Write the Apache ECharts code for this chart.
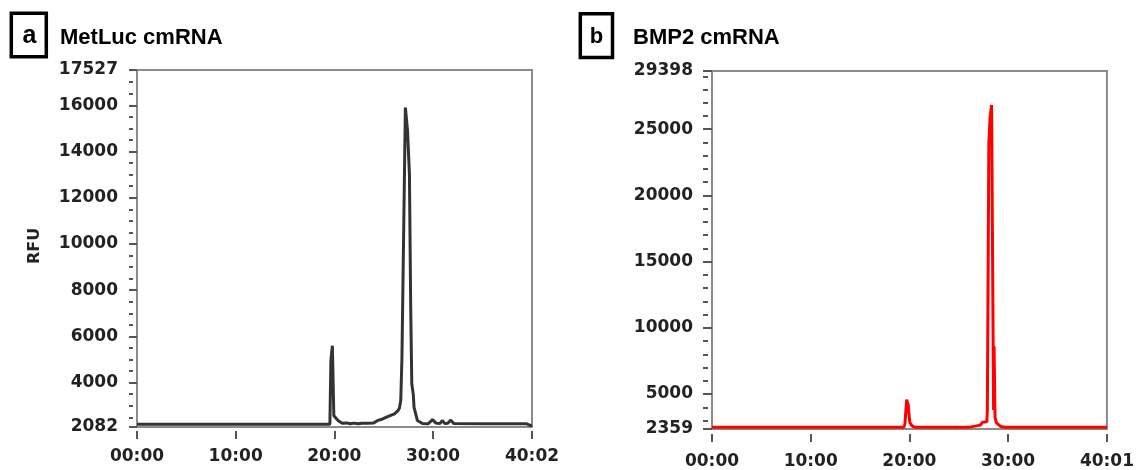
<!DOCTYPE html>
<html>
<head>
<meta charset="utf-8">
<script src="https://cdn.jsdelivr.net/npm/echarts@6/dist/echarts.min.js"></script>
<style>
html,body{margin:0;padding:0;background:#fff;}
#chart{width:1137px;height:470px;}
</style>
</head>
<body>
<div id="chart"></div>
<script>
// ---- Panel a: MetLuc cmRNA (time in minutes, RFU) ----
const timeA = [0, 8.2, 8.4, 8.6, 10.6, 10.8, 11.0, 19.55, 19.65, 19.75, 19.8, 19.9, 19.95, 20.2, 20.4, 20.8, 21.3, 21.6, 22.0, 22.4, 22.8, 23.4, 24.0, 24.35, 24.9, 25.4, 26.1, 26.45, 26.6, 26.73, 26.85, 27.0, 27.07, 27.15, 27.2, 27.34, 27.42, 27.55, 27.61, 27.7, 27.74, 27.8, 27.85, 28.0, 28.08, 28.42, 28.93, 29.5, 29.95, 30.3, 30.7, 30.96, 31.2, 31.5, 31.8, 32.1, 35, 39.5, 39.7, 39.9, 40.033];
const rfuA  = [2200, 2200, 2260, 2200, 2200, 2250, 2200, 2200, 4950, 4950, 5600, 5600, 2570, 2450, 2355, 2240, 2260, 2220, 2250, 2220, 2240, 2240, 2260, 2355, 2430, 2530, 2650, 2790, 2900, 3220, 5030, 5030, 11880, 11880, 15900, 15920, 14900, 14900, 13030, 13030, 7260, 7260, 3940, 3500, 2930, 2360, 2230, 2220, 2400, 2250, 2230, 2360, 2230, 2240, 2380, 2230, 2220, 2220, 2160, 2140, 2160];

// ---- Panel b: BMP2 cmRNA ----
const timeB = [0, 19.45, 19.55, 19.65, 19.72, 19.8, 19.88, 19.95, 20.05, 20.3, 20.6, 26.1, 26.2, 27.2, 27.4, 27.85, 27.9, 28.0, 28.05, 28.17, 28.33, 28.5, 28.53, 28.58, 28.63, 28.68, 28.82, 29.2, 29.6, 40.017];
const rfuB  = [2500, 2500, 2750, 3800, 4580, 4450, 4200, 3580, 2830, 2570, 2500, 2500, 2620, 2650, 2870, 2900, 3830, 3830, 23940, 25830, 26830, 26700, 3800, 8600, 8600, 3200, 2830, 2570, 2500, 2500];

// ---- Tick values / labels ----
const xTickValuesA = [0, 10, 20, 30, 40.033];
const xTickLabelsA = ['00:00', '10:00', '20:00', '30:00', '40:02'];
const yTickValuesA = [2082, 4000, 6000, 8000, 10000, 12000, 14000, 16000, 17527];
const yTickLabelsA = ['2082', '4000', '6000', '8000', '10000', '12000', '14000', '16000', '17527'];
const yMinorStepA = 500;

const xTickValuesB = [0, 10, 20, 30, 40.017];
const xTickLabelsB = ['00:00', '10:00', '20:00', '30:00', '40:01'];
const yTickValuesB = [2359, 5000, 10000, 15000, 20000, 25000, 29398];
const yTickLabelsB = ['2359', '5000', '10000', '15000', '20000', '25000', '29398'];
const yMinorStepB = 1000;

const titleA = 'MetLuc cmRNA';
const titleB = 'BMP2 cmRNA';
const panelA = 'a';
const panelB = 'b';
const yName = 'RFU';

function minorTicks(majors, step) {
  const lo = majors[0], hi = majors[majors.length - 1];
  const out = [];
  for (let v = Math.ceil(lo / step) * step; v < hi; v += step) {
    if (majors.every(m => Math.abs(m - v) > step * 0.2)) out.push(v);
  }
  return out;
}
function labelFor(values, labels) {
  return function (v) {
    for (let i = 0; i < values.length; i++) if (Math.abs(values[i] - v) < 1e-6) return labels[i];
    return '';
  };
}

const FONT = 'DejaVu Sans';
const labelStyle = { color: '#222', fontWeight: 'bold', fontSize: 17, fontFamily: FONT };
const tickColor = '#555';

function xAxisCfg(grid, vals, labels, offset, margin) {
  return {
    type: 'value', gridIndex: grid, position: 'bottom', min: vals[0], max: vals[vals.length - 1],
    offset: offset,
    axisLine: { show: false },
    axisTick: { show: true, customValues: vals, length: 8, lineStyle: { color: tickColor, width: 2 } },
    axisLabel: Object.assign({ customValues: vals, margin: margin, formatter: labelFor(vals, labels) }, labelStyle),
    splitLine: { show: false }
  };
}
function yAxisCfg(grid, vals, labels, offset, margin, len) {
  return {
    type: 'value', gridIndex: grid, position: 'left', min: vals[0], max: vals[vals.length - 1],
    offset: offset,
    axisLine: { show: false },
    axisTick: { show: true, customValues: vals, length: len, lineStyle: { color: tickColor, width: 2 } },
    axisLabel: Object.assign({ customValues: vals, margin: margin, formatter: labelFor(vals, labels) }, labelStyle),
    splitLine: { show: false }
  };
}
function yMinorCfg(grid, vals, minors, offset, len) {
  return {
    type: 'value', gridIndex: grid, position: 'left', min: vals[0], max: vals[vals.length - 1],
    offset: offset,
    axisLine: { show: false },
    axisTick: { show: true, customValues: minors, length: len, lineStyle: { color: tickColor, width: 2 } },
    axisLabel: { show: false },
    splitLine: { show: false }
  };
}

const chart = echarts.init(document.getElementById('chart'), null, { renderer: 'canvas' });
chart.setOption({
  backgroundColor: '#fff',
  animation: false,
  grid: [
    { left: 137, top: 70, width: 395, height: 357, show: true, borderColor: '#8c8c8c', borderWidth: 2, backgroundColor: '#fff' },
    { left: 712, top: 71, width: 398, height: 358.5, show: true, borderColor: '#8c8c8c', borderWidth: 2, backgroundColor: '#fff' }
  ],
  xAxis: [
    xAxisCfg(0, xTickValuesA, xTickLabelsA, 4, 17),
    xAxisCfg(1, xTickValuesB, xTickLabelsB, 5, 19)
  ],
  yAxis: [
    yAxisCfg(0, yTickValuesA, yTickLabelsA, 4, 15, 8),
    yMinorCfg(0, yTickValuesA, minorTicks(yTickValuesA, yMinorStepA), 4, 4),
    yAxisCfg(1, yTickValuesB, yTickLabelsB, 4, 15, 9),
    yMinorCfg(1, yTickValuesB, minorTicks(yTickValuesB, yMinorStepB), 4, 5)
  ],
  series: [
    {
      type: 'line', xAxisIndex: 0, yAxisIndex: 0, showSymbol: false, symbol: 'none',
      data: timeA.map((t, i) => [t, rfuA[i]]),
      lineStyle: { color: '#333', width: 3 }, z: 3
    },
    {
      type: 'line', xAxisIndex: 1, yAxisIndex: 2, showSymbol: false, symbol: 'none',
      data: timeB.map((t, i) => [t, rfuB[i]]),
      lineStyle: { color: '#ff0000', width: 3 }, z: 3
    }
  ],
  graphic: [
    { type: 'rect', shape: { x: 11.3, y: 13.3, width: 35, height: 43.4 }, style: { fill: 'none', stroke: '#000', lineWidth: 3.5 } },
    { type: 'text', x: 29.5, y: 36, style: { text: panelA, fontSize: 25, fontWeight: 'bold', fontFamily: 'Liberation Sans', fill: '#000', align: 'center', verticalAlign: 'middle' } },
    { type: 'text', x: 60, y: 37.5, style: { text: titleA, fontSize: 22, fontWeight: 'bold', fontFamily: 'Liberation Sans', fill: '#000', align: 'left', verticalAlign: 'middle' } },
    { type: 'rect', shape: { x: 580.3, y: 13.7, width: 32.2, height: 43.8 }, style: { fill: 'none', stroke: '#000', lineWidth: 3.5 } },
    { type: 'text', x: 596.5, y: 37, style: { text: panelB, fontSize: 22, fontWeight: 'bold', fontFamily: 'Liberation Sans', fill: '#000', align: 'center', verticalAlign: 'middle' } },
    { type: 'text', x: 633, y: 37.5, style: { text: titleB, fontSize: 22, fontWeight: 'bold', fontFamily: 'Liberation Sans', fill: '#000', align: 'left', verticalAlign: 'middle' } },
    { type: 'text', x: 34.5, y: 246, rotation: Math.PI / 2, style: { text: yName, fontSize: 16, fontWeight: 'bold', fontFamily: FONT, fill: '#222', align: 'center', verticalAlign: 'middle' } }
  ]
});
</script>
</body>
</html>
